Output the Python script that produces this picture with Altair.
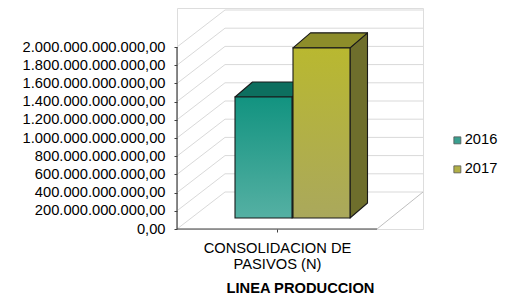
import json
import altair as alt
import pandas as pd

# ---------------- data ----------------
years = ["2016", "2017"]
values = [1.33e12, 1.87e12]
category_lines = ["CONSOLIDACION DE", "PASIVOS (N)"]
x_title = "LINEA PRODUCCION"
tick_values = [i * 2e11 for i in range(11)]

# ---------------- styles / layout ----------------
front_grad = {"2016": ("#129380", "#55b0a3"), "2017": ("#b9b830", "#aaa85c")}
top_colors = {"2016": "#0d6f5f", "2017": "#8d8d2a"}
side_colors = {"2016": "#0a5a4c", "2017": "#6e6e2c"}
legend_colors = ["#3a9f8f", "#b1af46"]
OUTLINE = "#1a1a1a"
GRID = "#d9d9d9"
FONT = "Liberation Sans"
FS = 14.7

PX = 2e12 / 182.0          # value units per pixel on the y scale
W, H = 246, 221
YMAX = H * PX
WALL_DX, WALL_DY = 48, 37 * PX
FLOOR_W = 200
BAR_W, BAR_X0, BAR_STEP = 57, 58, 58
BAR_BASE = 11 * PX
BAR_DX, BAR_DY = 17.5, 15 * PX

xs = alt.Scale(domain=[0, W], nice=False, zero=False)
ys = alt.Scale(domain=[0, YMAX], nice=False, zero=False)

y_axis = alt.Axis(values=tick_values, format=",.2f", domain=False, grid=False,
                  ticks=True, tickSize=3, tickColor="#404040", labelPadding=9,
                  labelFont=FONT, labelFontSize=FS, labelColor="#000000", title=None)
x_axis = alt.Axis(values=[FLOOR_W / 2], labelExpr=json.dumps(category_lines),
                  domain=False, grid=False, tickSize=3, tickColor="#404040",
                  labelPadding=8, labelLineHeight=16, labelFont=FONT, labelFontSize=FS,
                  labelColor="#000000", title=x_title, titleFont=FONT, titleFontSize=FS,
                  titleFontWeight="bold", titleColor="#000000", titlePadding=10)


def X(f):
    return alt.X(f, type="quantitative", scale=xs, axis=x_axis)


def Y(f):
    return alt.Y(f, type="quantitative", scale=ys, axis=y_axis)


# walls
grid_df = pd.DataFrame({"v": tick_values})
grid_df["yb"] = grid_df["v"] + WALL_DY
grid_df["xa"] = 0
grid_df["xb"] = WALL_DX
grid_df["xe"] = W

back_grid = alt.Chart(grid_df).mark_rule(color=GRID, strokeWidth=1).encode(
    x=X("xb"), x2="xe", y=Y("yb"))
side_grid = alt.Chart(grid_df).mark_rule(color=GRID, strokeWidth=1).encode(
    x=X("xa"), x2="xb", y=Y("v"), y2="yb")

edges_df = pd.DataFrame({
    "xa": [FLOOR_W], "xb": [W], "ya": [0.0], "yb": [WALL_DY]})
floor_right = alt.Chart(edges_df).mark_rule(color="#bfbfbf", strokeWidth=1).encode(
    x=X("xa"), x2="xb", y=Y("ya"), y2="yb")

front_df = pd.DataFrame({"xa": [0], "xb": [FLOOR_W], "y": [0.0]})
floor_front = alt.Chart(front_df).mark_rule(color="#404040", strokeWidth=1.2).encode(
    x=X("xa"), x2="xb", y=Y("y"))

axis_df = pd.DataFrame({"x": [0], "ya": [0.0], "yb": [tick_values[-1]]})
y_line = alt.Chart(axis_df).mark_rule(color="#404040", strokeWidth=1.2).encode(
    x=X("x"), y=Y("ya"), y2="yb")

# bars
bar_layers = []
for i, (yr, v) in enumerate(zip(years, values)):
    x0 = BAR_X0 + i * BAR_STEP
    x1 = x0 + BAR_W
    y0 = BAR_BASE
    y1 = BAR_BASE + v
    side_df = pd.DataFrame({"x": [x1, x1 + BAR_DX], "ya": [y0, y0 + BAR_DY],
                            "yb": [y1, y1 + BAR_DY]})
    top_df = pd.DataFrame({"y": [y1, y1 + BAR_DY], "xa": [x0, x0 + BAR_DX],
                           "xb": [x1, x1 + BAR_DX]})
    fr_df = pd.DataFrame({"xa": [x0], "xb": [x1], "ya": [y0], "yb": [y1]})
    side = alt.Chart(side_df).mark_area(
        orient="vertical", color=side_colors[yr], stroke=OUTLINE, strokeWidth=1.1,
        strokeJoin="round").encode(x=X("x"), y=Y("ya"), y2="yb")
    top = alt.Chart(top_df).mark_area(
        orient="horizontal", color=top_colors[yr], stroke=OUTLINE, strokeWidth=1.1,
        strokeJoin="round").encode(y=Y("y"), x=X("xa"), x2="xb")
    c0, c1 = front_grad[yr]
    front = alt.Chart(fr_df).mark_rect(
        color=alt.Gradient(gradient="linear", x1=0, y1=0, x2=0, y2=1,
                           stops=[alt.GradientStop(color=c0, offset=0),
                                  alt.GradientStop(color=c1, offset=1)]),
        stroke=OUTLINE, strokeWidth=1.1).encode(x=X("xa"), x2="xb", y=Y("ya"), y2="yb")
    bar_layers += [side, top, front]

# legend (invisible layer carrying the colour scale)
leg_df = pd.DataFrame({"year": years, "x": [0, 0], "y": [0.0, 0.0]})
legend_layer = alt.Chart(leg_df).mark_square(opacity=0, size=1).encode(
    x=X("x"), y=Y("y"),
    color=alt.Color("year:N", scale=alt.Scale(domain=years, range=legend_colors),
                    legend=alt.Legend(orient="none", legendX=273, legendY=125,
                                      title=None, symbolType="square", symbolSize=49,
                                      symbolOpacity=1, symbolStrokeColor="#555555",
                                      symbolStrokeWidth=0.8, labelFont=FONT,
                                      labelFontSize=FS, labelColor="#000000",
                                      labelOffset=0, rowPadding=13, padding=0)))

chart = alt.layer(back_grid, side_grid, floor_right, *bar_layers, floor_front,
                  y_line, legend_layer).properties(
    width=W, height=H,
    autosize=alt.AutoSizeParams(type="none"),
    padding={"left": 169, "top": 0, "right": 75, "bottom": 66},
).configure_view(stroke=None).configure(
    locale={"number": {"decimal": ",", "thousands": ".", "grouping": [3],
                       "currency": ["", ""]}})

chart.save("out.html", embed_options={"renderer": "svg", "actions": False})
